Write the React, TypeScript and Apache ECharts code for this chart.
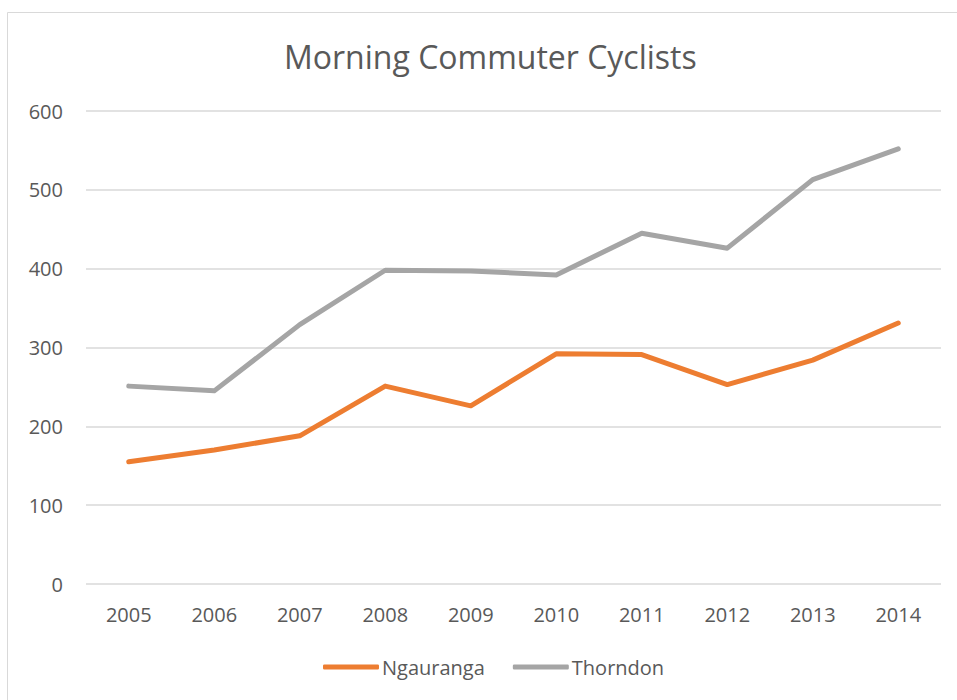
import React, { useEffect, useRef } from "react";
import * as echarts from "echarts";

const years = ["2005", "2006", "2007", "2008", "2009", "2010", "2011", "2012", "2013", "2014"];
const ngauranga = [155, 170, 188, 251, 226, 292, 291, 253, 284, 331];
const thorndon = [251, 245, 329, 398, 397, 392, 445, 426, 513, 552];

export default function App() {
  const ref = useRef<HTMLDivElement>(null);
  useEffect(() => {
    if (!ref.current) return;
    const chart = echarts.init(ref.current, undefined, { renderer: "svg" });
    const font = "'Open Sans', sans-serif";
    chart.setOption({
      animation: false,
      backgroundColor: "#ffffff",
      graphic: [
        {
          type: "rect",
          shape: { x: 7.5, y: 12.5, width: 1000, height: 800 },
          style: { fill: "none", stroke: "#d9d9d9", lineWidth: 1 },
          silent: true,
        },
      ],
      title: {
        text: "Morning Commuter Cyclists",
        left: 284,
        top: 40,
        padding: 0,
        textStyle: { fontFamily: font, fontSize: 32, fontWeight: "normal", color: "#595959" },
      },
      legend: {
        top: 652,
        left: 318,
        itemWidth: 56,
        itemHeight: 5,
        itemGap: 28,
        icon: "roundRect",
        textStyle: { fontFamily: font, fontSize: 20, color: "#595959", padding: [0, 0, 0, -2] },
        data: ["Ngauranga", "Thorndon"],
      },
      grid: { left: 86, right: 16, top: 111, bottom: 116, containLabel: false },
      xAxis: {
        type: "category",
        data: years,
        boundaryGap: true,
        axisLine: { show: false },
        axisTick: { show: false },
        axisLabel: { fontFamily: font, fontSize: 20, color: "#595959", margin: 20 },
      },
      yAxis: {
        type: "value",
        min: 0,
        max: 600,
        interval: 100,
        axisLine: { show: false },
        axisTick: { show: false },
        axisLabel: { fontFamily: font, fontSize: 20, color: "#595959", margin: 23 },
        splitLine: { lineStyle: { color: "#d9d9d9", width: 1.5 } },
      },
      series: [
        {
          name: "Ngauranga",
          type: "line",
          data: ngauranga,
          symbol: "none",
          lineStyle: { color: "#ED7D31", width: 5, cap: "round", join: "round" },
          itemStyle: { color: "#ED7D31" },
        },
        {
          name: "Thorndon",
          type: "line",
          data: thorndon,
          symbol: "none",
          lineStyle: { color: "#A5A5A5", width: 5, cap: "round", join: "round" },
          itemStyle: { color: "#A5A5A5" },
        },
      ],
    });
    return () => chart.dispose();
  }, []);
  return <div ref={ref} style={{ width: 957, height: 700, position: "absolute", left: 0, top: 0 }} />;
}
